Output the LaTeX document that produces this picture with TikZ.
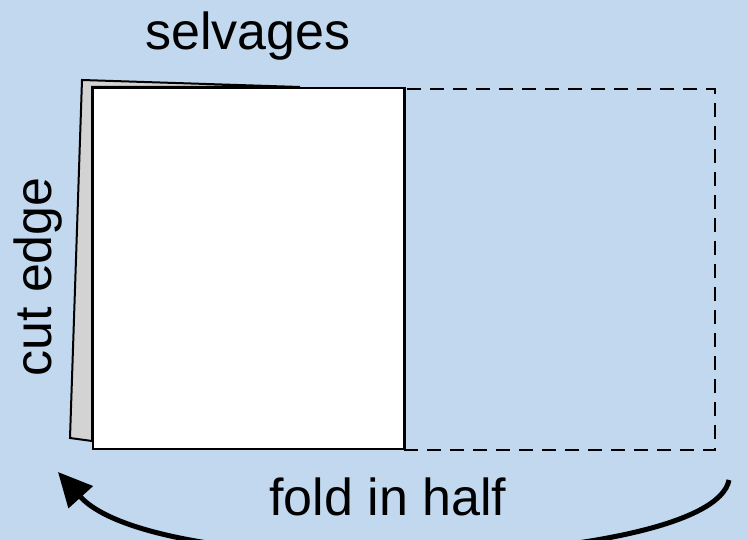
\documentclass[tikz,border=0pt]{standalone}
\usepackage{fontspec}
\setmainfont{Liberation Sans}
\usetikzlibrary{arrows.meta}
\definecolor{bg}{HTML}{C1D8EF}
\definecolor{backsheet}{HTML}{D3D3D3}
\tikzset{
  sheet/.style={draw=black, line width=2pt, line join=miter},
  foldline/.style={draw=black, line width=2pt, dash pattern=on 14pt off 9pt},
  label/.style={font=\fontsize{52}{60}\selectfont, text=black, inner sep=0pt},
  foldarrow/.style={draw=black, line width=5pt, -{Triangle[length=34pt,width=32pt]}}
}
\begin{document}
\begin{tikzpicture}[x=1pt,y=-1pt]
\fill[bg] (0,0) rectangle (748,540);
\useasboundingbox (0,0) rectangle (748,540);
% back sheet
\path[sheet, fill=backsheet] (300,87) -- (82,80) -- (70,438) -- (92,441) -- (92,87) -- cycle;
% front sheet
\node[sheet, fill=white, minimum width=311pt, minimum height=361pt, inner sep=0pt, anchor=north west] (front) at (92,87) {};
% dashed unfolded half
\node[foldline, minimum width=311pt, minimum height=361pt, inner sep=0pt, anchor=north west] (half) at (403,88) {};
\draw[sheet] (front.north east) -- (front.south east);
% labels
\node[label] (selv) at (248,36) {selvages};
\node[label, rotate=90] (cut) at (38,277) {cut edge};
\node[label] (fold) at (388,497) {fold in half};
% arrow
\coordinate (astart) at (729,480);
\coordinate (aend) at (58,472);
\draw[foldarrow] (astart) .. controls (712,570) and (160,585) .. (aend);
\end{tikzpicture}
\end{document}
